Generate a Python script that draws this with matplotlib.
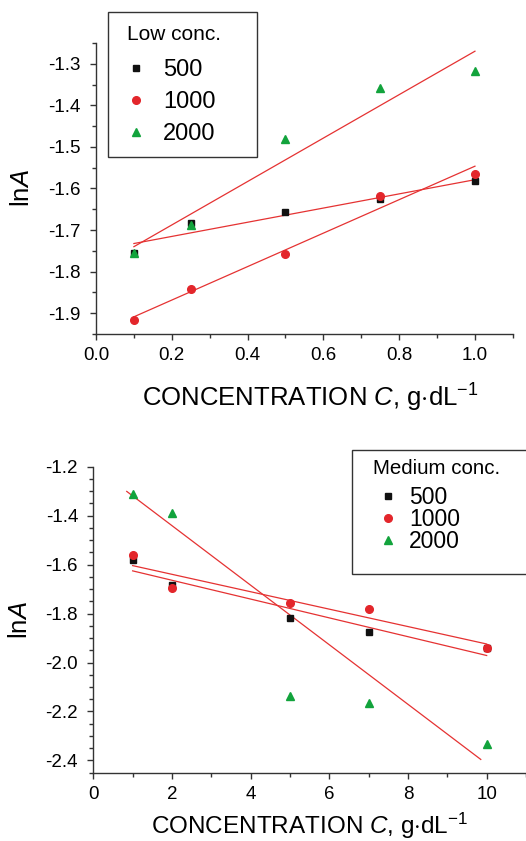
import numpy as np
import matplotlib
matplotlib.use("Agg")
import matplotlib.pyplot as plt
from matplotlib.ticker import MultipleLocator
from matplotlib.patches import Rectangle

plt.rcParams['font.family'] = ['Liberation Sans', 'DejaVu Sans']
plt.rcParams['mathtext.fontset'] = 'custom'
plt.rcParams['mathtext.rm'] = 'Liberation Sans'
plt.rcParams['mathtext.it'] = 'Liberation Sans:italic'

# ---- data: low concentration (top panel) ----
low_x = [0.1, 0.25, 0.5, 0.75, 1.0]
low_500 = [-1.756, -1.682, -1.657, -1.626, -1.583]
low_1000 = [-1.916, -1.843, -1.757, -1.618, -1.564]
low_2000 = [-1.756, -1.689, -1.482, -1.359, -1.317]
# fitted lines: (intercept, slope, x_start, x_end)
low_fit_500 = (-1.7495, 0.1706, 0.1, 1.0)
low_fit_1000 = (-1.9490, 0.4026, 0.1, 1.0)
low_fit_2000 = (-1.7923, 0.5225, 0.1, 1.0)

# ---- data: medium concentration (bottom panel) ----
med_x = [1, 2, 5, 7, 10]
med_500 = [-1.582, -1.682, -1.819, -1.874, -1.940]
med_1000 = [-1.561, -1.697, -1.756, -1.780, -1.939]
med_2000 = [-1.312, -1.391, -2.135, -2.165, -2.332]
med_fit_500 = (-1.5874, -0.0384, 1.0, 10.0)
med_fit_1000 = (-1.5688, -0.03556, 1.0, 10.0)
med_fit_2000 = (-1.198, -0.1216, 0.85, 9.85)

series_labels = ['500', '1000', '2000']

BLACK = '#111111'
RED = '#e3262b'
GREEN = '#12a33c'
LINE = '#e53232'
SPINE = '#333333'

W, H = 526, 841
fig = plt.figure(figsize=(W / 100, H / 100), dpi=100)


def fx(px):
    return px / W


def fy(py):
    return 1 - py / H


def style_axes(ax):
    for s in ['top', 'right']:
        ax.spines[s].set_visible(False)
    for s in ['left', 'bottom']:
        ax.spines[s].set_color(SPINE)
        ax.spines[s].set_linewidth(1.0)
    ax.tick_params(which='both', direction='out', color=SPINE, labelsize=13.5)
    ax.tick_params(which='major', length=4.5, width=1.0)
    ax.tick_params(which='minor', length=3, width=1.0)
    ax.tick_params(axis='y', which='major', pad=6.5)
    ax.tick_params(axis='x', which='major', pad=5)


def draw_fit(ax, fit):
    b, m, x0, x1 = fit
    xs = np.array([x0, x1])
    ax.plot(xs, b + m * xs, color=LINE, lw=0.9, zorder=2)


def draw_points(ax, x, ys):
    h1, = ax.plot(x, ys[0], 's', color=BLACK, ms=5, ls='none', zorder=3, label=series_labels[0])
    h2, = ax.plot(x, ys[1], 'o', color=RED, ms=5.5, ls='none', zorder=3, label=series_labels[1])
    h3, = ax.plot(x, ys[2], '^', color=GREEN, ms=5.5, ls='none', zorder=3, label=series_labels[2])
    return [h1, h2, h3]


def legend_box(handles, title, box_px, title_px, title_fs, entry_px,
               fs, spacing, textpad):
    x0, y0, x1, y1 = box_px
    fig.add_artist(Rectangle((fx(x0), fy(y1)), fx(x1) - fx(x0), fy(y0) - fy(y1),
                             transform=fig.transFigure, fill=True, facecolor='white',
                             edgecolor=SPINE, lw=1.0, zorder=5))
    fig.text(fx(title_px[0]), fy(title_px[1]), title, fontsize=title_fs,
             ha='left', va='center', zorder=6)
    leg = fig.legend(handles=handles, loc='upper left',
                     bbox_to_anchor=(fx(entry_px[0]), fy(entry_px[1])),
                     bbox_transform=fig.transFigure, fontsize=fs,
                     frameon=False, handlelength=0.6, handletextpad=textpad,
                     labelspacing=spacing, borderpad=0, borderaxespad=0)
    leg.set_zorder(7)
    return leg


# ---------------- top panel ----------------
ax1 = fig.add_axes([0.1825, 0.6029, 0.7925, 0.346])
style_axes(ax1)
hs = draw_points(ax1, low_x, [low_500, low_1000, low_2000])
for f in (low_fit_500, low_fit_1000, low_fit_2000):
    draw_fit(ax1, f)
ax1.set_xlim(0, 1.1)
ax1.set_ylim(-1.95, -1.25)
ax1.xaxis.set_minor_locator(MultipleLocator(0.1))
ax1.yaxis.set_minor_locator(MultipleLocator(0.05))
ax1.set_yticks([-1.9, -1.8, -1.7, -1.6, -1.5, -1.4, -1.3])
ax1.set_yticklabels(['-1.9', '-1.8', '-1.7', '-1.6', '-1.5', '-1.4', '-1.3'])
ax1.set_xticks([0.0, 0.2, 0.4, 0.6, 0.8, 1.0])
ax1.set_xticklabels(['0.0', '0.2', '0.4', '0.6', '0.8', '1.0'])
ax1.set_xlabel(r'CONCENTRATION $\it{C}$, g$\cdot$dL$^{\rm{-1}}$', fontsize=18.5, labelpad=12)
ax1.xaxis.set_label_coords(0.515, -0.165)
ax1.set_ylabel(r'ln$\it{A}$', fontsize=18.5, labelpad=10)

legend_box(hs, 'Low conc.', (108, 12, 257, 157), (127, 35), 15,
           (129, 59), 17, 0.42, 0.85)

# ---------------- bottom panel ----------------
ax2 = fig.add_axes([0.1774, 0.0812, 0.8226, 0.364])
style_axes(ax2)
hs2 = draw_points(ax2, med_x, [med_500, med_1000, med_2000])
for f in (med_fit_500, med_fit_1000, med_fit_2000):
    draw_fit(ax2, f)
ax2.set_xlim(0, 11)
ax2.set_ylim(-2.45, -1.2)
ax2.xaxis.set_minor_locator(MultipleLocator(1))
ax2.yaxis.set_minor_locator(MultipleLocator(0.05))
ax2.set_yticks([-2.4, -2.2, -2.0, -1.8, -1.6, -1.4, -1.2])
ax2.set_yticklabels(['-2.4', '-2.2', '-2.0', '-1.8', '-1.6', '-1.4', '-1.2'])
ax2.set_xticks([0, 2, 4, 6, 8, 10])
ax2.set_xticklabels(['0', '2', '4', '6', '8', '10'])
ax2.set_xlabel(r'CONCENTRATION $\it{C}$, g$\cdot$dL$^{\rm{-1}}$', fontsize=17.5, labelpad=6)
ax2.set_ylabel(r'ln$\it{A}$', fontsize=18.5, labelpad=10)

legend_box(hs2, 'Medium conc.', (352, 450, 540, 574), (373, 468), 14.8,
           (381, 486), 16.5, -0.05, 0.62)

fig.savefig('out.png', dpi=100)
